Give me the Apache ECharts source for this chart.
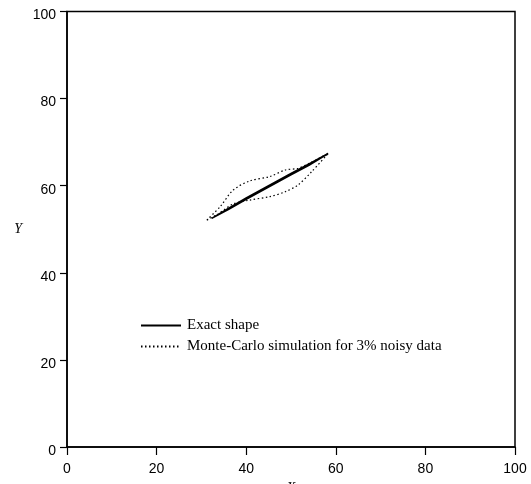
<!DOCTYPE html>
<html><head><meta charset="utf-8">
<script src="https://cdn.jsdelivr.net/npm/echarts@6/dist/echarts.min.js"></script>
<style>html,body{margin:0;padding:0;background:#fff}#c{width:531px;height:484px}</style>
</head><body><div id="c"></div>
<script>
// Exact shape (thin closed contour)
var exactX = [32.3, 36.0, 40.0, 45.0, 50.0, 54.0, 58.3, 54.0, 50.0, 45.0, 40.0, 36.0, 32.3];
var exactY = [52.5, 54.8, 57.2, 60.0, 62.8, 65.0, 67.4, 64.7, 62.5, 59.7, 56.9, 54.5, 52.5];
// Monte-Carlo simulation contour (upper then lower branch)
var mcX = [31.2, 34.2, 37.1, 40.8, 45.3, 48.7, 51.6, 54.2, 58.3, 54.6, 51.6, 48.7, 45.3, 40.8, 37.1, 33.4, 31.2];
var mcY = [52.1, 55.2, 59.0, 61.1, 62.1, 63.6, 64.0, 65.2, 67.4, 63.2, 60.2, 58.6, 57.5, 56.7, 55.8, 53.3, 52.1];
var xTicks = [0, 20, 40, 60, 80, 100];
var yTicks = [0, 20, 40, 60, 80, 100];
var seriesNames = ['Exact shape', 'Monte-Carlo simulation for 3% noisy data'];

function pairs(xs, ys) { return xs.map(function (x, i) { return [x, ys[i]]; }); }

var chart = echarts.init(document.getElementById('c'), null, {renderer: 'canvas'});
var axisCommon = {
  min: 0, max: 100, interval: 20,
  axisLine: {show: true, lineStyle: {color: '#000', width: 1.5}},
  splitLine: {show: false},
  nameTextStyle: {fontFamily: 'Liberation Serif', fontStyle: 'italic', fontSize: 14, color: '#000'}
};
chart.setOption({
  animation: false,
  grid: {left: 67, right: 16, top: 11.5, bottom: 37, containLabel: false, outerBoundsMode: 'none',
    show: true, borderColor: '#000', borderWidth: 1.5, backgroundColor: 'transparent'},
  xAxis: Object.assign({}, axisCommon, {
    type: 'value', name: 'X', nameLocation: 'middle', nameGap: 32,
    axisTick: {show: true, length: 8, lineStyle: {color: '#000', width: 1.2}},
    axisLabel: {margin: 15, fontFamily: 'Liberation Sans', fontSize: 14, color: '#000',
      formatter: function (v) { return xTicks.indexOf(v) >= 0 ? String(v) : ''; }}
  }),
  yAxis: Object.assign({}, axisCommon, {
    type: 'value', name: 'Y', nameLocation: 'middle', nameGap: 45, nameRotate: 0,
    axisTick: {show: true, length: 7, lineStyle: {color: '#000', width: 1.2}},
    axisLabel: {margin: 11, fontFamily: 'Liberation Sans', fontSize: 14, color: '#000',
      verticalAlign: 'top', lineHeight: 8,
      formatter: function (v) { return yTicks.indexOf(v) >= 0 ? String(v) : ''; }}
  }),
  legend: {
    orient: 'vertical', left: 140, top: 318, padding: 0, itemWidth: 40, itemHeight: 14, itemGap: 6,
    itemStyle: {opacity: 0},
    textStyle: {fontFamily: 'Liberation Serif', fontSize: 15, color: '#000', padding: [0, 0, 0, 1]},
    data: seriesNames
  },
  series: [
    {name: seriesNames[0], type: 'line', data: pairs(exactX, exactY), symbol: 'none', smooth: false,
      lineStyle: {color: '#000', width: 1.6, type: 'solid'}, itemStyle: {color: '#000'}},
    {name: seriesNames[1], type: 'line', data: pairs(mcX, mcY), symbol: 'none', smooth: 0.3,
      lineStyle: {color: '#000', width: 1.2, type: [1.5, 2.5]}, itemStyle: {color: '#000'}}
  ]
});
</script></body></html>
